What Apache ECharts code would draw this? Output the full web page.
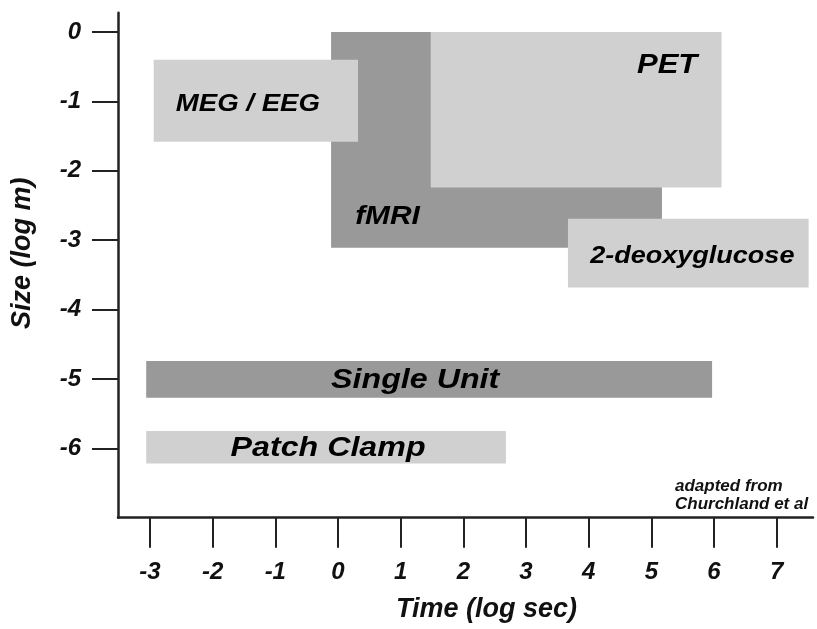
<!DOCTYPE html>
<html>
<head>
<meta charset="utf-8">
<script src="https://cdn.jsdelivr.net/npm/echarts@6/dist/echarts.min.js"></script>
<style>
html,body{margin:0;padding:0;background:#fff;}
#chart{width:817px;height:629px;}
</style>
</head>
<body>
<div id="chart"></div>
<script>
// ---- data ----
const methods    = ['fMRI', 'PET', 'MEG / EEG', '2-deoxyglucose', 'Single Unit', 'Patch Clamp'];
const timeStart  = [-0.11, 1.48, -2.94, 3.67, -3.06, -3.06];   // log sec
const timeEnd    = [5.17, 6.12, 0.32, 7.51, 5.97, 2.68];
const sizeTop    = [0.0, 0.0, -0.40, -2.69, -4.74, -5.75];     // log m
const sizeBottom = [-3.11, -2.24, -1.58, -3.68, -5.27, -6.22];
const timeTicks  = [-3, -2, -1, 0, 1, 2, 3, 4, 5, 6, 7];
const sizeTicks  = [0, -1, -2, -3, -4, -5, -6];

// ---- styles (not data) ----
const LIGHT = '#d0d0d0', DARK = '#999999';
const boxStyle = {
  'fMRI':           {fill: DARK,  dx: -109, dy: 77,  fs: 26},
  'PET':            {fill: LIGHT, dx: 91,   dy: -44, fs: 27},
  'MEG / EEG':      {fill: LIGHT, dx: -8,   dy: 4,   fs: 24},
  '2-deoxyglucose': {fill: LIGHT, dx: 4,    dy: 3,   fs: 23.5},
  'Single Unit':    {fill: DARK,  dx: -14,  dy: 1,   fs: 28},
  'Patch Clamp':    {fill: LIGHT, dx: 2,    dy: 1,   fs: 28}
};
const FONT = '"Liberation Sans", Arial, Helvetica, sans-serif';

const data = methods.map((m, i) => [timeStart[i], timeEnd[i], sizeTop[i], sizeBottom[i], i]);

const chart = echarts.init(document.getElementById('chart'), null, {renderer: 'canvas'});
const axisLabelStyle = {color: '#111', fontSize: 24, fontWeight: 'bold', fontStyle: 'italic', fontFamily: FONT};

chart.setOption({
  backgroundColor: '#ffffff',
  animation: false,
  title: {
    text: 'adapted from\nChurchland et al',
    left: 670, top: 472,
    textStyle: {fontSize: 17, lineHeight: 18, fontWeight: 'bold', fontStyle: 'italic', color: '#111', fontFamily: FONT}
  },
  grid: {left: 118, right: 4, top: 12.7, bottom: 111.3, containLabel: false},
  xAxis: {
    type: 'value', min: -3.51, max: 7.58,
    name: 'Time (log sec)', nameLocation: 'middle', nameGap: 78,
    nameTextStyle: {fontSize: 27, fontWeight: 'bold', fontStyle: 'italic', color: '#111', fontFamily: FONT, padding: [0, 0, 0, 42]},
    splitLine: {show: false},
    axisLine: {show: true, onZero: false, lineStyle: {color: '#222', width: 2.5}},
    axisTick: {show: true, inside: false, length: 30, lineStyle: {color: '#222', width: 2}, customValues: timeTicks},
    axisLabel: Object.assign({margin: 43, customValues: timeTicks, formatter: v => String(v)}, axisLabelStyle)
  },
  yAxis: {
    type: 'value', min: -7, max: 0.28,
    name: 'Size (log m)', nameLocation: 'middle', nameGap: 82, nameRotate: 90,
    nameTextStyle: {fontSize: 27, fontWeight: 'bold', fontStyle: 'italic', color: '#111', fontFamily: FONT, padding: [0, 0, 0, 24]},
    splitLine: {show: false},
    axisLine: {show: true, onZero: false, lineStyle: {color: '#222', width: 2.5}},
    axisTick: {show: true, inside: false, length: 26, lineStyle: {color: '#222', width: 2}, customValues: sizeTicks},
    axisLabel: Object.assign({margin: 37, customValues: sizeTicks, formatter: v => String(v)}, axisLabelStyle)
  },
  series: [{
    type: 'custom',
    data: data,
    encode: {x: [0, 1], y: [2, 3]},
    renderItem: function (params, api) {
      const p0 = api.coord([api.value(0), api.value(2)]);
      const p1 = api.coord([api.value(1), api.value(3)]);
      const name = methods[api.value(4)];
      const st = boxStyle[name];
      const x = Math.min(p0[0], p1[0]), y = Math.min(p0[1], p1[1]);
      const w = Math.abs(p1[0] - p0[0]), h = Math.abs(p1[1] - p0[1]);
      return {
        type: 'group',
        children: [
          {type: 'rect', shape: {x: x, y: y, width: w, height: h}, style: {fill: st.fill}},
          {type: 'text', x: x + w / 2 + st.dx, y: y + h / 2 + st.dy, scaleX: 1.15, z2: 10,
           style: {text: name, x: 0, y: 0, align: 'center', verticalAlign: 'middle', fill: '#000',
                   font: 'italic bold ' + st.fs + 'px ' + FONT}}
        ]
      };
    }
  }]
});
</script>
</body>
</html>
